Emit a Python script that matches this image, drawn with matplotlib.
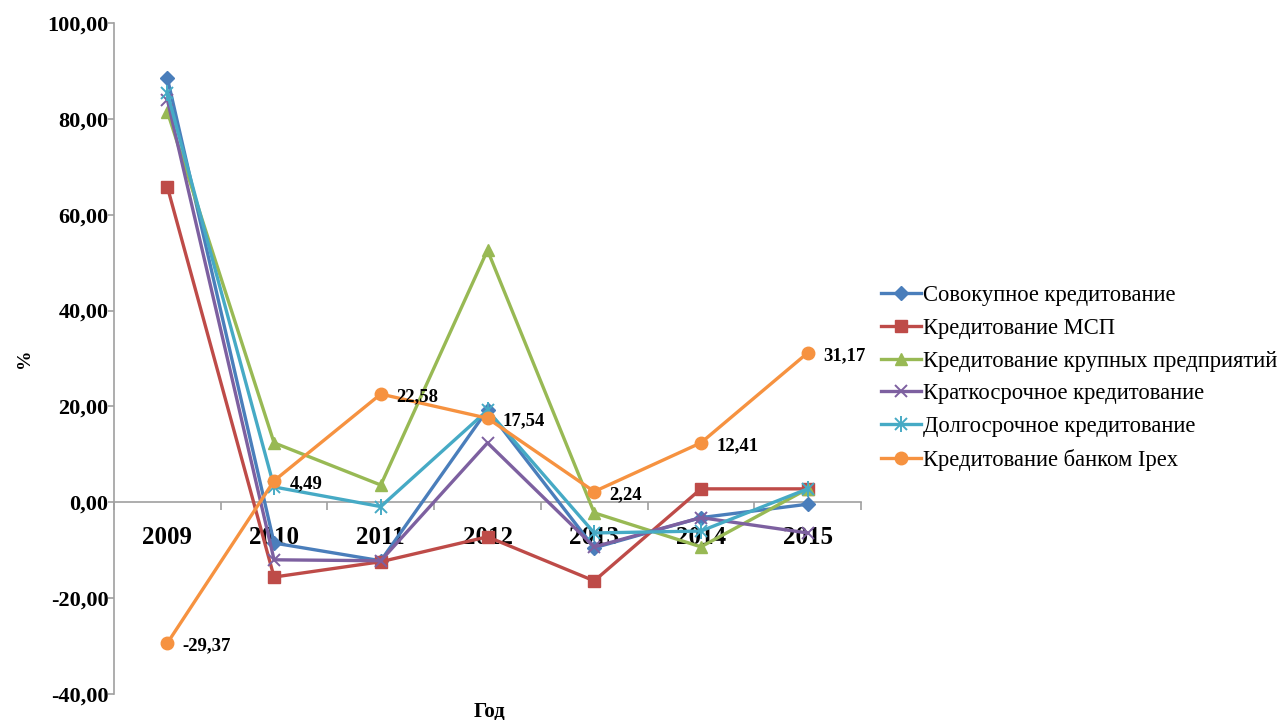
import matplotlib
matplotlib.use("Agg")
import matplotlib.pyplot as plt

plt.rcParams['font.family'] = ['Liberation Serif', 'DejaVu Serif']

years = ["2009", "2010", "2011", "2012", "2013", "2014", "2015"]

total_credit = [88.5, -8.5, -12.2, 19.3, -9.5, -3.2, -0.4]
sme_credit = [65.8, -15.6, -12.4, -7.2, -16.4, 2.8, 2.8]
large_credit = [81.5, 12.4, 3.6, 52.6, -2.2, -9.3, 2.8]
short_credit = [84.0, -12.0, -12.2, 12.4, -9.3, -3.2, -6.4]
long_credit = [85.4, 3.2, -0.9, 19.2, -6.4, -6.0, 2.8]
ipex_credit = [-29.37, 4.49, 22.58, 17.54, 2.24, 12.41, 31.17]

series_names = [
    "Совокупное кредитование",
    "Кредитование МСП",
    "Кредитование крупных предприятий",
    "Краткосрочное кредитование",
    "Долгосрочное кредитование",
    "Кредитование банком Ipex",
]

colors = ["#4A7EBB", "#BE4B48", "#98B954", "#7D60A0", "#46AAC5", "#F69240"]

fig = plt.figure(figsize=(12.81, 7.2), dpi=100)
ax = fig.add_axes([114 / 1281, 1 - 694 / 720, (861 - 114) / 1281, (694 - 23) / 720])

x = list(range(len(years)))
lw = 2.4
handles = []

h, = ax.plot(x, total_credit, color=colors[0], lw=lw, marker="D", ms=7, zorder=3)
handles.append(h)
h, = ax.plot(x, sme_credit, color=colors[1], lw=lw, marker="s", ms=8, zorder=3)
handles.append(h)
h, = ax.plot(x, large_credit, color=colors[2], lw=lw, marker="^", ms=9, zorder=3)
handles.append(h)
h, = ax.plot(x, short_credit, color=colors[3], lw=lw, marker="x", ms=9, mew=1.4, zorder=3)
handles.append(h)
h1, = ax.plot(x, long_credit, color=colors[4], lw=lw, marker="x", ms=9, mew=1.4, zorder=3)
h2, = ax.plot(x, long_credit, color=colors[4], lw=0, marker="|", ms=11, mew=1.4, zorder=3)
handles.append((h1, h2))
h, = ax.plot(x, ipex_credit, color=colors[5], lw=lw, marker="o", ms=9, zorder=4)
handles.append(h)

for xi, v in zip(x, ipex_credit):
    ax.annotate(f"{v:.2f}".replace(".", ","), (xi, v), xytext=(11, -2),
                textcoords="offset points", ha="left", va="center",
                fontsize=13.5, fontweight="bold", zorder=5)

ax.set_xlim(-0.5, 6.5)
ax.set_ylim(-40, 100)
ax.set_yticks(range(-40, 101, 20))
ax.set_yticklabels([f"{v:.2f}".replace(".", ",") for v in range(-40, 101, 20)],
                   fontsize=16, fontweight="bold")

for s in ["top", "right"]:
    ax.spines[s].set_visible(False)
ax.spines["left"].set_color("#A0A0A0")
ax.spines["left"].set_linewidth(1.2)
ax.spines["bottom"].set_position(("data", 0))
ax.spines["bottom"].set_color("#A0A0A0")
ax.spines["bottom"].set_linewidth(1.2)

ax.tick_params(axis="y", direction="out", length=4, color="#A0A0A0", width=1.2, pad=0)
ax.set_xticks(x)
ax.set_xticklabels(years, fontsize=18, fontweight="bold")
ax.tick_params(axis="x", which="major", length=0, pad=17)
ax.set_xticks([i + 0.5 for i in range(-1, 7)], minor=True)
ax.tick_params(axis="x", which="minor", direction="out", length=6, color="#A0A0A0", width=1.2)

ax.set_ylabel("%", fontsize=14, fontweight="bold", labelpad=10)
fig.text(489 / 1281, 1 - 712 / 720, "Год", fontsize=15, fontweight="bold",
         ha="center", va="center")

leg = fig.legend(handles, series_names, loc="center left",
                 bbox_to_anchor=(881 / 1281, 1 - 378 / 720), frameon=False,
                 fontsize=16.3, handlelength=1.75, handletextpad=0.1,
                 labelspacing=0.52, borderaxespad=0, borderpad=0)

fig.savefig("out.png", dpi=100)
